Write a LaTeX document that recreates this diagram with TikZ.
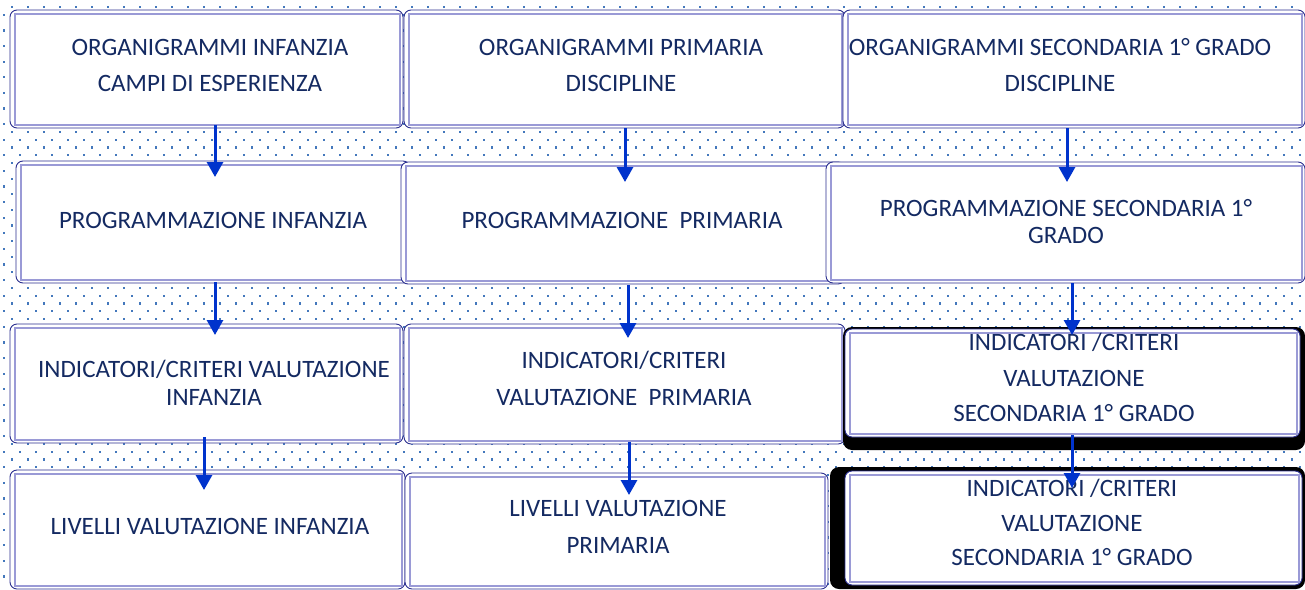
\documentclass[tikz,border=0pt]{standalone}
\usepackage{fontspec}
\setmainfont{Carlito}
\usetikzlibrary{arrows.meta}
\definecolor{boxline}{HTML}{2B2F8F}
\definecolor{innerline}{HTML}{9A9AD6}
\definecolor{dotc}{HTML}{4478BC}
\definecolor{txt}{HTML}{142A62}
\definecolor{arrc}{HTML}{0033CC}
\tikzset{
  box/.style={draw=boxline, line width=0.9pt, fill=white, rounded corners=7pt, inner sep=0pt, outer sep=0pt},
  shadowbox/.style={fill=black, rounded corners=9pt, inner sep=0pt, outer sep=0pt},
  innerln/.style={draw=innerline, line width=1.2pt},
  lbl/.style={text=txt, align=center, inner sep=0pt},
  arr/.style={draw=arrc, line width=3pt, -{Triangle[width=16pt,length=15pt]}}
}
\newcommand{\mkbox}[5]{%
  \node[box, minimum width={(#4)-(#2)}, minimum height={(#5)-(#3)}] (#1) at ({((#2)+(#4))/2},{((#3)+(#5))/2}) {};
  \draw[innerln] ([shift={(5pt,-4pt)}]#1.north west) rectangle ([shift={(-3pt,3pt)}]#1.south east);
}
\begin{document}
\begin{tikzpicture}[x=1pt,y=-1pt]
\useasboundingbox (0,0) rectangle (1305,589);
\fill[white] (0,0) rectangle (1305,589);
% dotted background
\foreach \j in {0,...,75} {
  \pgfmathsetmacro\yy{7+7.8*\j}
  \pgfmathsetmacro\xo{mod(\j,2)==0 ? 12 : 4}
  \foreach \i in {0,...,81} {
    \fill[dotc] ({\xo+16*\i-1.1},{\yy-1.1}) rectangle ++(2.2,2.2);
  }
}
% row 1
\mkbox{A1}{10}{10}{403}{128}
\mkbox{A2}{404}{10}{845}{128}
\mkbox{A3}{843}{10}{1305}{128}
% row 2
\mkbox{B1}{16}{161}{410}{283}
\mkbox{B2}{401}{162}{845}{284}
\mkbox{B3}{826}{162}{1305}{283}
% row 3
\mkbox{C1}{10}{324}{403}{443}
\mkbox{C2}{404}{324}{845}{444}
\node[shadowbox, minimum width=462, minimum height=123] (C3s) at (1074,388.5) {};
\mkbox{C3}{845}{329}{1300}{437}
% row 4
\mkbox{D1}{10}{470}{405}{589}
\mkbox{D2}{405}{473}{828}{589}
\node[shadowbox, minimum width=475, minimum height=122] (D3s) at (1067.5,528) {};
\mkbox{D3}{845}{471}{1302}{585}
% texts
\node[lbl, font={\fontsize{25}{36}\selectfont}] (A1t) at (210,65) {ORGANIGRAMMI INFANZIA\\CAMPI DI ESPERIENZA};
\node[lbl, font={\fontsize{25}{36}\selectfont}] (A2t) at (621,65) {ORGANIGRAMMI PRIMARIA\\DISCIPLINE};
\node[lbl, font={\fontsize{25}{36}\selectfont}] (A3t) at (1060,65) {ORGANIGRAMMI SECONDARIA 1° GRADO\\DISCIPLINE};
\node[lbl, font={\fontsize{25}{36}\selectfont}] (B1t) at (213,220) {PROGRAMMAZIONE INFANZIA};
\node[lbl, font={\fontsize{25}{36}\selectfont}] (B2t) at (622,220) {PROGRAMMAZIONE\ \ PRIMARIA};
\node[lbl, font={\fontsize{25}{27}\selectfont}] (B3t) at (1066,221.5) {PROGRAMMAZIONE SECONDARIA 1°\\GRADO};
\node[lbl, font={\fontsize{25}{28}\selectfont}] (C1t) at (214,383) {INDICATORI/CRITERI VALUTAZIONE\\INFANZIA};
\node[lbl, font={\fontsize{25}{37}\selectfont}] (C2t) at (624,378.5) {INDICATORI/CRITERI\\VALUTAZIONE\ \ PRIMARIA};
\node[lbl, font={\fontsize{25}{35.5}\selectfont}] (C3t) at (1074,377.5) {INDICATORI /CRITERI\\VALUTAZIONE\\SECONDARIA 1° GRADO};
\node[lbl, font={\fontsize{25}{36}\selectfont}] (D1t) at (210,526) {LIVELLI VALUTAZIONE INFANZIA};
\node[lbl, font={\fontsize{25}{37}\selectfont}] (D2t) at (618,526.5) {LIVELLI VALUTAZIONE\\PRIMARIA};
\node[lbl, font={\fontsize{25}{34.5}\selectfont}] (D3t) at (1072,522.5) {INDICATORI /CRITERI\\VALUTAZIONE\\SECONDARIA 1° GRADO};
% arrows
\draw[arr] ([xshift=8.5pt,yshift=3pt]A1.south) -- ++(0,52);
\draw[arr] ([xshift=2pt,yshift=1pt]B1.south) -- ++(0,53);
\draw[arr] ([xshift=-2.5pt,yshift=6pt]C1.south) -- ++(0,53);
\draw[arr] ([xshift=0.5pt]A2.south) -- ++(0,54);
\draw[arr] ([xshift=5pt,yshift=-1pt]B2.south) -- ++(0,53);
\draw[arr] ([xshift=4.5pt,yshift=2pt]C2.south) -- ++(0,53);
\draw[arr] ([xshift=-7pt]A3.south) -- ++(0,54);
\draw[arr] ([xshift=6.5pt]B3.south) -- ++(0,52);
\draw[arr] ([xshift=-0.5pt,yshift=2pt]C3.south) -- ++(0,53);
\end{tikzpicture}
\end{document}
